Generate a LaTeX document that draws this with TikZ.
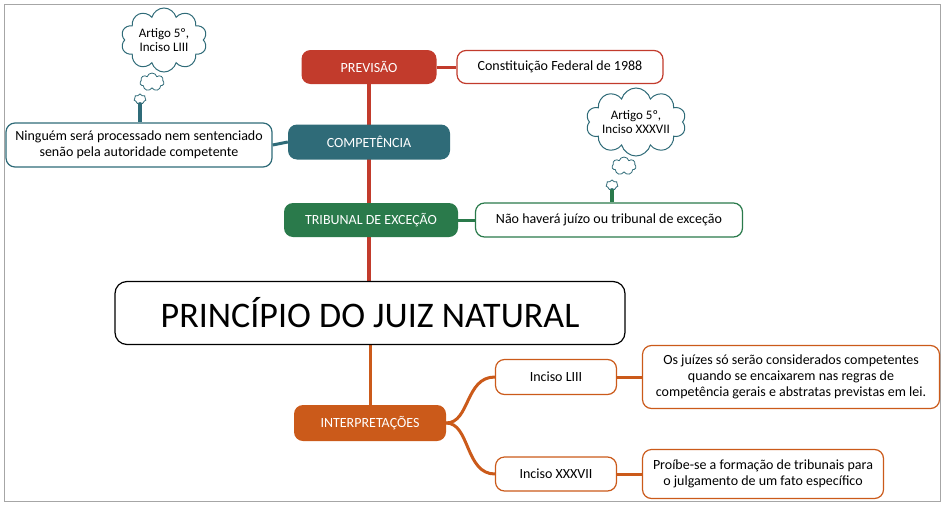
\documentclass[tikz,border=0pt]{standalone}
\usepackage{fontspec}
\setmainfont{Carlito}
\usetikzlibrary{shapes.symbols,backgrounds}
\definecolor{cred}{HTML}{C23B2C}
\definecolor{cteal}{HTML}{2F6B78}
\definecolor{cgreen}{HTML}{2A7A4B}
\definecolor{corange}{HTML}{CB5A1A}
\tikzset{
 x=1pt,y=-1pt,
 topic/.style={rounded corners=9pt,text=white,font=\fontsize{14}{15}\selectfont,inner sep=0pt},
 leaf/.style={draw,line width=1.2pt,fill=white,rounded corners=9pt,font=\fontsize{14}{16}\selectfont,align=center,inner sep=0pt},
 cloudy/.style={cloud,cloud puffs=10,cloud ignores aspect,draw=cteal,line width=1pt,fill=white,align=center,font=\fontsize{13}{14}\selectfont,inner sep=-4pt},
 puff/.style={cloud,cloud puffs=7,cloud ignores aspect,draw=cteal,line width=0.8pt,fill=white,inner sep=0pt},
 conn/.style={line width=3pt},
}
\begin{document}
\begin{tikzpicture}
\useasboundingbox (0,0) rectangle (944,506);
\draw[gray!70,line width=0.8pt] (4,4) rectangle (940,501);
% nodes
\node[topic,fill=cred,minimum width=135,minimum height=34] (prev) at (369,67) {PREVISÃO};
\node[leaf,draw=cred,minimum width=206,minimum height=33] (const) at (560,67) {Constituição Federal de 1988};
\node[topic,fill=cteal,minimum width=162,minimum height=35] (comp) at (369,142) {COMPETÊNCIA};
\node[leaf,draw=cteal,minimum width=266,minimum height=44] (ning) at (139,145) {Ninguém será processado nem sentenciado\\senão pela autoridade competente};
\node[topic,fill=cgreen,minimum width=174,minimum height=34] (trib) at (371,220) {TRIBUNAL DE EXCEÇÃO};
\node[leaf,draw=cgreen,minimum width=267,minimum height=34] (nao) at (609,220) {Não haverá juízo ou tribunal de exceção};
\node[leaf,draw=black,minimum width=510,minimum height=63,rounded corners=12pt,font=\fontsize{36}{38}\selectfont] (main) at (370,313) {PRINCÍPIO DO JUIZ NATURAL};
\node[topic,fill=corange,minimum width=152,minimum height=36] (interp) at (370,423) {INTERPRETAÇÕES};
\node[leaf,draw=corange,minimum width=121,minimum height=35] (liii) at (556,377) {Inciso LIII};
\node[leaf,draw=corange,minimum width=297,minimum height=63] (osj) at (791,377) {Os juízes só serão considerados competentes\\quando se encaixarem nas regras de\\competência gerais e abstratas previstas em lei.};
\node[leaf,draw=corange,minimum width=121,minimum height=34] (xxxvii) at (556,474) {Inciso XXXVII};
\node[leaf,draw=corange,minimum width=241,minimum height=49] (proi) at (763,474) {Proíbe-se a formação de tribunais para\\o julgamento de um fato específico};
% clouds
\node[cloudy,minimum width=86,minimum height=64] (c1) at (164,40) {Artigo 5º,\\Inciso LIII};
\node[puff,minimum width=24,minimum height=18] (c1a) at (152,82) {};
\node[puff,minimum width=12,minimum height=10] (c1b) at (140,99) {};
\node[cloudy,minimum width=100,minimum height=68] (c2) at (636,122) {Artigo 5º,\\Inciso XXXVII};
\node[puff,minimum width=24,minimum height=18] (c2a) at (624,166) {};
\node[puff,minimum width=12,minimum height=10] (c2b) at (612,185) {};
% connectors
\begin{scope}[on background layer]
\draw[conn,cteal,line width=4pt] (c1b.south) -- (ning.north -| c1b.south);
\draw[conn,cgreen,line width=4pt] (c2b.south) -- (nao.north -| c2b.south);
\draw[cred,line width=3.5pt] (prev.center) -- (main.north -| prev.center);
\draw[conn,corange] (main.south -| interp.north) -- (interp.north);
\draw[conn,cred] (prev.east) -- (const.west);
\draw[conn,cteal] (comp.west) -- (ning.east);
\draw[conn,cgreen] (trib.east) -- (nao.west);
\draw[conn,corange] (interp.east) .. controls (470,423) and (465,377) .. (liii.west);
\draw[conn,corange] (interp.east) .. controls (470,423) and (465,474) .. (xxxvii.west);
\draw[conn,corange] (liii.east) -- (osj.west);
\draw[conn,corange] (xxxvii.east) -- (proi.west);
\end{scope}
\end{tikzpicture}
\end{document}
